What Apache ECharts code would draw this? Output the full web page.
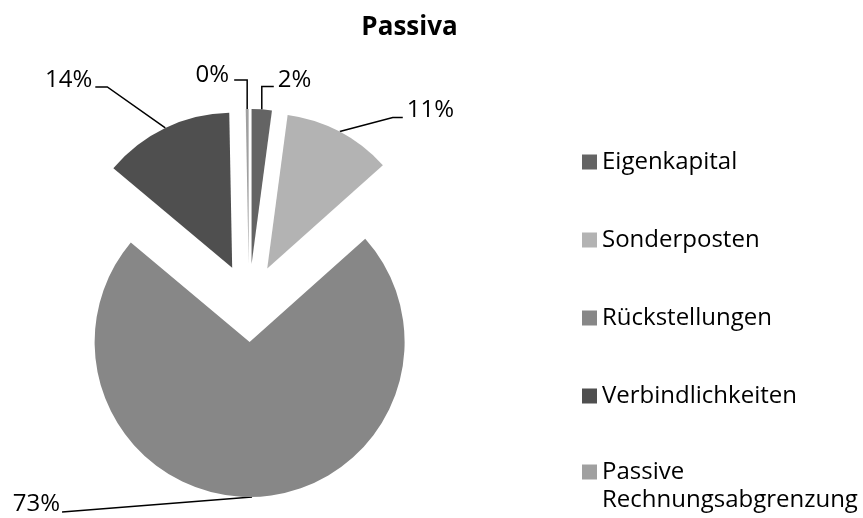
<!DOCTYPE html>
<html>
<head>
<meta charset="utf-8">
<script src="https://cdn.jsdelivr.net/npm/echarts@6/dist/echarts.min.js"></script>
<style>
html,body{margin:0;padding:0;background:#ffffff;}
#chart{width:863px;height:518px;}
</style>
</head>
<body>
<div id="chart"></div>
<script>
// ---- data ----
const chartTitle = 'Passiva';
const categories = ['Eigenkapital', 'Sonderposten', 'Rückstellungen', 'Verbindlichkeiten', 'Passive Rechnungsabgrenzung'];
const values = [2.1, 11.3, 72.7, 13.6, 0.3];

// ---- style / layout ----
const colors = ['#646464', '#b3b3b3', '#878787', '#4f4f4f', '#a0a0a0'];
const FONT = '"Open Sans", "Noto Sans", sans-serif';
const FONT_SIZE = 24;
const PIE_CENTER = [249, 303];
const PIE_RADIUS = 155;
const EXPLODE = 39;
// leader line bends and label text offsets, relative to the slice's outer anchor point
const labelLeaders = [
  { pts: [[0, 0], [0, -23], [12, -23]], text: [16, -29], align: 'left' },
  { pts: [[0, 0], [53, -14], [63, -14]], text: [67, -21], align: 'left' },
  { pts: [[0, 0], [-190, 15]], text: [-192, 7], align: 'right' },
  { pts: [[0, 0], [-58, -41], [-70, -41]], text: [-73, -48], align: 'right' },
  { pts: [[0, 0], [0, -29], [-13, -29]], text: [-18, -34], align: 'right' }
];

const total = values.reduce((a, b) => a + b, 0);
const midAngles = [];
let acc = 0;
values.forEach(v => { midAngles.push((acc + v / 2) / total * 2 * Math.PI); acc += v; });

const series = categories.map((cat, i) => {
  const a = midAngles[i];
  const cx = PIE_CENTER[0] + EXPLODE * Math.sin(a);
  const cy = PIE_CENTER[1] - EXPLODE * Math.cos(a);
  return {
    type: 'pie',
    center: [cx, cy],
    radius: PIE_RADIUS,
    startAngle: 90,
    clockwise: true,
    avoidLabelOverlap: false,
    silent: true,
    animation: false,
    emphasis: { disabled: true },
    itemStyle: { borderWidth: 0 },
    label: { show: false },
    labelLine: { show: false },
    data: categories.map((n, j) => ({
      name: n,
      value: values[j],
      itemStyle: { color: j === i ? colors[j] : 'rgba(0,0,0,0)', borderWidth: 0 },
      label: {
        show: j === i,
        position: 'outside',
        formatter: p => Math.round(p.percent) + '%',
        fontFamily: FONT,
        fontSize: FONT_SIZE,
        color: '#000000'
      },
      labelLine: { show: j === i, lineStyle: { color: '#000000', width: 1.5 } }
    })),
    labelLayout: function (p) {
      const L = labelLeaders[i];
      let anchor;
      if (p.labelLinePoints && p.labelLinePoints[0]) {
        anchor = p.labelLinePoints[0];
      } else {
        anchor = [cx + PIE_RADIUS * Math.sin(a), cy - PIE_RADIUS * Math.cos(a)];
      }
      return {
        x: anchor[0] + L.text[0],
        y: anchor[1] + L.text[1],
        align: L.align,
        verticalAlign: 'middle',
        labelLinePoints: L.pts.map(q => [anchor[0] + q[0], anchor[1] + q[1]])
      };
    }
  };
});

const option = {
  backgroundColor: '#ffffff',
  animation: false,
  title: {
    text: chartTitle,
    left: 409.5,
    top: 27.5,
    padding: 0,
    textAlign: 'center',
    textVerticalAlign: 'middle',
    textStyle: { fontFamily: FONT, fontSize: 26, fontWeight: 'bold', color: '#000000' }
  },
  legend: [
    {
      orient: 'vertical',
      left: 582,
      top: 147,
      padding: 0,
      itemWidth: 15,
      itemHeight: 15,
      itemGap: 48,
      icon: 'rect',
      selectedMode: false,
      data: categories.slice(0, 4).map((n, j) => ({ name: n, itemStyle: { color: colors[j], borderWidth: 0 } })),
      textStyle: { fontFamily: FONT, fontSize: FONT_SIZE, color: '#000000', lineHeight: 30 }
    },
    {
      orient: 'vertical',
      left: 582,
      top: 430,
      padding: 0,
      itemWidth: 15,
      itemHeight: 15,
      icon: 'rect',
      selectedMode: false,
      data: [{ name: categories[4], itemStyle: { color: colors[4], borderWidth: 0 } }],
      // leading empty line keeps the first text line level with the colour square
      formatter: n => '\n' + n.replace(' ', '\n'),
      textStyle: { fontFamily: FONT, fontSize: FONT_SIZE, color: '#000000', lineHeight: 28 }
    }
  ],
  series: series
};

const chart = echarts.init(document.getElementById('chart'), null, { renderer: 'canvas' });
chart.setOption(option);
</script>
</body>
</html>
